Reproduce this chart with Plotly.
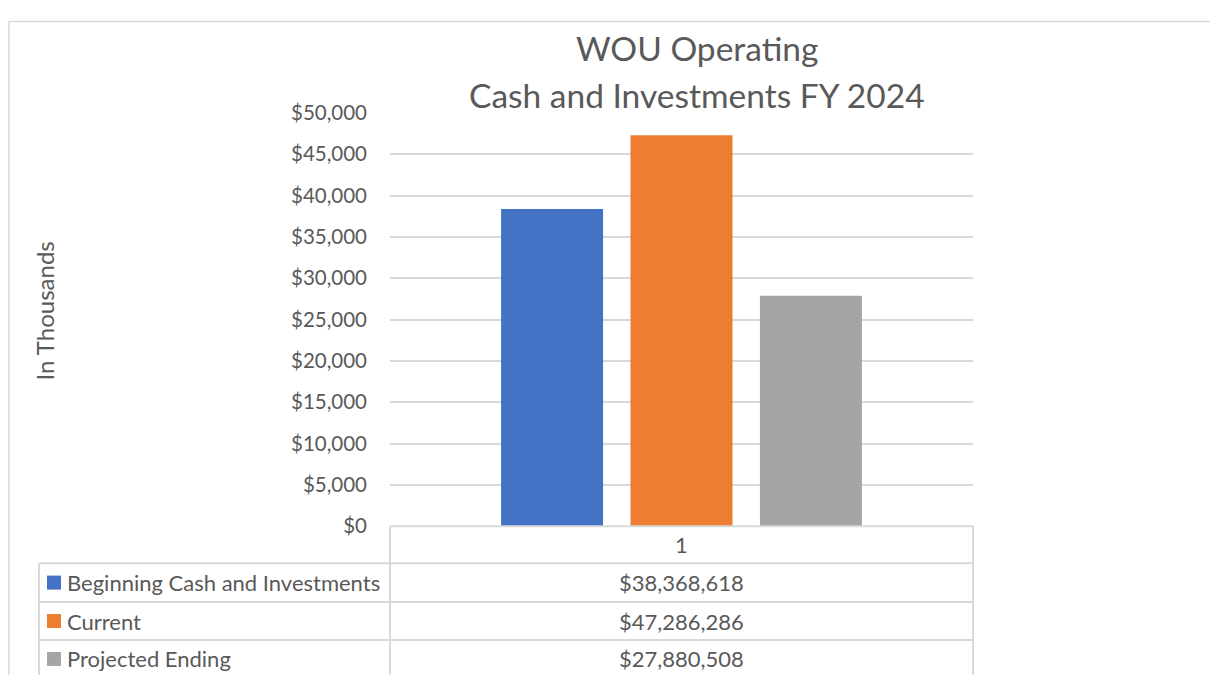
import plotly.graph_objects as go

categories = ["1"]
series_names = ["Beginning Cash and Investments", "Current", "Projected Ending"]
series_values = [38368618, 47286286, 27880508]
series_colors = ["#4472C4", "#ED7D31", "#A5A5A5"]
y_tickvals = [0, 5000, 10000, 15000, 20000, 25000, 30000, 35000, 40000, 45000, 50000]
y_ticktext = ["$0", "$5,000", "$10,000", "$15,000", "$20,000", "$25,000",
              "$30,000", "$35,000", "$40,000", "$45,000", "$50,000"]
title_lines = ["WOU Operating", "Cash and Investments FY 2024"]
y_title = "In Thousands"

W, H = 1218, 675
X_OFF = 8            # horizontal page offset of the figure in the photo
Y_OFF, Y_SCALE = 20, 0.966   # vertical placement of the figure in the photo
FONT = "Lato, Carlito, Calibri, sans-serif"
TXT = "#595959"
GRID = "#d9d9d9"


def px(x):
    return (x - X_OFF) / W


def py(y):
    return 1 - ((y - Y_OFF) / Y_SCALE) / H


fig = go.Figure()
for name, val, col in zip(series_names, series_values, series_colors):
    fig.add_trace(go.Bar(x=categories, y=[val / 1000], name=name,
                         marker=dict(color=col, line=dict(width=0))))

plot_l, plot_r, plot_t, plot_b = 390, 973, 112, 526

fig.update_layout(
    width=W, height=H,
    margin=dict(l=0, r=0, t=0, b=0),
    paper_bgcolor="white", plot_bgcolor="white",
    barmode="group", bargap=0.334, bargroupgap=0.212,
    showlegend=False,
    font=dict(family=FONT, color=TXT),
    xaxis=dict(domain=[px(plot_l), px(plot_r)], showticklabels=False,
               showgrid=False, zeroline=False, showline=False, ticks=""),
    yaxis=dict(domain=[py(plot_b), py(plot_t)], range=[0, 50000],
               tickvals=y_tickvals, ticktext=y_ticktext,
               tickfont=dict(size=20.5, color=TXT, family=FONT),
               showgrid=True, gridcolor=GRID, gridwidth=2,
               zeroline=False, showline=False, ticks="",
               ticklabelstandoff=22),
)

shapes = []
# outer chart frame (top/left edges)
shapes.append(dict(type="rect", xref="paper", yref="paper",
                   x0=0.0008, x1=1.2, y0=-0.2, y1=0.9992,
                   line=dict(color=GRID, width=1.5)))
row_tops = [526, 563, 602, 640, 720]
left_x = 39


def hline(x0, x1, y):
    shapes.append(dict(type="line", xref="paper", yref="paper",
                       x0=px(x0), x1=px(x1), y0=py(y), y1=py(y),
                       line=dict(color=GRID, width=2)))


def vline(x, y0, y1):
    shapes.append(dict(type="line", xref="paper", yref="paper",
                       x0=px(x), x1=px(x), y0=py(y0), y1=py(y1),
                       line=dict(color=GRID, width=2)))


hline(plot_l, plot_r, row_tops[0])
for y in row_tops[1:4]:
    hline(left_x, plot_r, y)
vline(plot_l, row_tops[0], row_tops[4])
vline(plot_r, row_tops[0], row_tops[4])
vline(left_x, row_tops[1], row_tops[4])

TS = 22
row_centers = [544.5, 582.5, 621, 659]
annotations = []
annotations.append(dict(xref="paper", yref="paper", x=px((plot_l + plot_r) / 2),
                        y=py(row_centers[0]), text=categories[0],
                        showarrow=False, font=dict(size=TS, color=TXT, family=FONT),
                        xanchor="center", yanchor="middle"))
for i, (name, val, col) in enumerate(zip(series_names, series_values, series_colors)):
    yc = row_centers[i + 1]
    shapes.append(dict(type="rect", xref="paper", yref="paper",
                       x0=px(47), x1=px(61), y0=py(yc + 7), y1=py(yc - 7),
                       fillcolor=col, line=dict(width=0)))
    annotations.append(dict(xref="paper", yref="paper", x=px(65), y=py(yc),
                            text=name, showarrow=False, xanchor="left", yanchor="middle",
                            font=dict(size=TS, color=TXT, family=FONT)))
    annotations.append(dict(xref="paper", yref="paper", x=px((plot_l + plot_r) / 2), y=py(yc),
                            text=f"${val:,}", showarrow=False, xanchor="center", yanchor="middle",
                            font=dict(size=TS, color=TXT, family=FONT)))

for line, yc in zip(title_lines, [47, 94]):
    annotations.append(dict(xref="paper", yref="paper", x=px(697), y=py(yc), text=line,
                            showarrow=False, xanchor="center", yanchor="middle",
                            font=dict(size=33.5, color=TXT, family=FONT)))
annotations.append(dict(xref="paper", yref="paper", x=px(45), y=py(311), text=y_title,
                        showarrow=False, textangle=-90, xanchor="center", yanchor="middle",
                        font=dict(size=24, color=TXT, family=FONT)))

fig.update_layout(shapes=shapes, annotations=annotations)
fig.write_html("out.html")
